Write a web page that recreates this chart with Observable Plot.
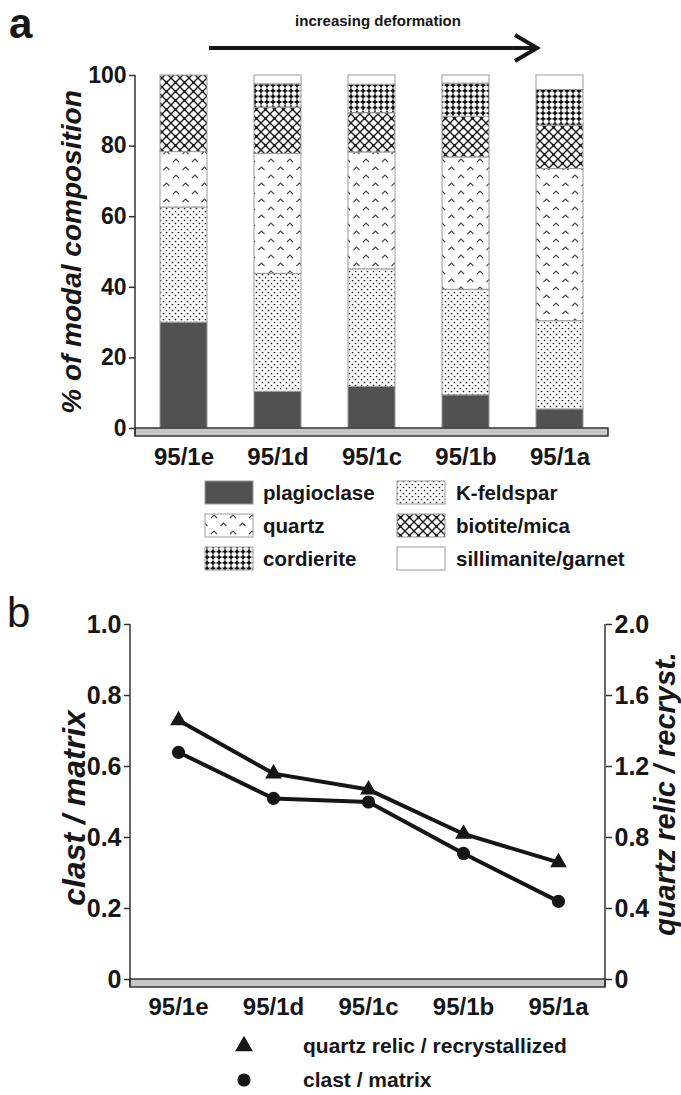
<!DOCTYPE html>
<html><head><meta charset="utf-8">
<script src="https://cdn.jsdelivr.net/npm/d3@7"></script>
<script src="https://cdn.jsdelivr.net/npm/@observablehq/plot@0.6"></script>
<style>
body{margin:0;background:#fff;font-family:"Liberation Sans",Arial,sans-serif;}
#wrap{position:relative;width:681px;height:1095px;overflow:hidden;background:#fff;}
</style></head><body><div id="wrap"></div>
<script>
// ---------- data ----------
const samples = ["95/1e", "95/1d", "95/1c", "95/1b", "95/1a"];
const minerals = ["plagioclase", "K-feldspar", "quartz", "biotite/mica", "cordierite", "sillimanite/garnet"];
const plagioclase = [30.0, 10.4, 11.8, 9.4, 5.4];
const kFeldspar = [32.6, 33.4, 33.3, 29.9, 25.0];
const quartz = [15.7, 34.0, 33.1, 37.5, 43.1];
const biotiteMica = [21.7, 13.1, 11.1, 11.5, 12.3];
const cordierite = [0, 6.6, 8.1, 9.4, 10.1];
const sillimaniteGarnet = [0, 2.5, 2.6, 2.3, 4.1];
const percentTicks = [0, 20, 40, 60, 80, 100];

const clastMatrix = [0.64, 0.51, 0.50, 0.355, 0.22];
const quartzRelicRecryst = [1.46, 1.16, 1.07, 0.82, 0.66];
const leftTicks = [0, 0.2, 0.4, 0.6, 0.8, 1.0];
const rightTicks = [0, 0.4, 0.8, 1.2, 1.6, 2.0];
const seriesB = ["quartz relic / recrystallized", "clast / matrix"];

// ---------- setup ----------
const FONT = "'Liberation Sans', Arial, Helvetica, sans-serif";
const INK = "#161616";
const wrap = document.getElementById("wrap");

// pattern definitions
const defs = d3.select(wrap).append("svg").attr("width", 0).attr("height", 0)
  .style("position", "absolute").style("left", 0).style("top", 0);
const D = defs.append("defs");
function pat(id, w, h, draw) {
  const p = D.append("pattern").attr("id", id).attr("patternUnits", "userSpaceOnUse")
    .attr("width", w).attr("height", h);
  p.append("rect").attr("width", w).attr("height", h).attr("fill", "#fff");
  draw(p);
}
pat("pKfs", 6, 6, p => {
  p.append("circle").attr("cx", 1.5).attr("cy", 1.5).attr("r", 0.85).attr("fill", "#1a1a1a");
  p.append("circle").attr("cx", 4.5).attr("cy", 4.5).attr("r", 0.85).attr("fill", "#1a1a1a");
});
pat("pQtz", 19, 16, p => {
  p.append("path").attr("d", "M2 6 L5 3 L8 6 M11.5 14 L14.5 11 L17.5 14")
    .attr("stroke", "#444").attr("stroke-width", 1.1).attr("fill", "none");
});
pat("pBio", 9, 9, p => {
  p.append("path").attr("d", "M-1 -1 L10 10 M10 -1 L-1 10")
    .attr("stroke", "#1a1a1a").attr("stroke-width", 1.4).attr("fill", "none");
  p.append("circle").attr("cx", 4.5).attr("cy", 4.5).attr("r", 1.2).attr("fill", "#1a1a1a");
});
pat("pCrd", 6, 5.6, p => {
  p.append("path").attr("d", "M3 0.4 V5.2 M0.6 2.8 H5.4")
    .attr("stroke", "#111").attr("stroke-width", 1.8).attr("fill", "none");
});
const fills = {
  "plagioclase": "#515151",
  "K-feldspar": "url(#pKfs)",
  "quartz": "url(#pQtz)",
  "biotite/mica": "url(#pBio)",
  "cordierite": "url(#pCrd)",
  "sillimanite/garnet": "#ffffff"
};
const valuesBy = [plagioclase, kFeldspar, quartz, biotiteMica, cordierite, sillimaniteGarnet];

const rowsA = [];
samples.forEach((s, i) => minerals.forEach((m, j) => {
  if (valuesBy[j][i] > 0) rowsA.push({sample: s, mineral: m, value: valuesBy[j][i]});
}));

function place(node, top) {
  node.style.position = "absolute";
  node.style.left = "0px";
  node.style.top = top + "px";
  wrap.appendChild(node);
}

// baseline band + axis lines, drawn from the scales
function baseBand(withRight) {
  return (index, scales, values, dims) => {
    const y0 = scales.y(0);
    const g = d3.create("svg:g");
    const x1 = dims.marginLeft, x2 = dims.width - dims.marginRight;
    g.append("rect").attr("x", x1).attr("y", y0).attr("width", x2 - x1).attr("height", 8)
      .attr("fill", "#c6c6c6").attr("stroke", "#333").attr("stroke-width", 1.5);
    g.append("line").attr("x1", x1).attr("x2", x1).attr("y1", dims.marginTop).attr("y2", y0 + 8)
      .attr("stroke", "#333").attr("stroke-width", 1.5);
    if (withRight) g.append("line").attr("x1", x2).attr("x2", x2).attr("y1", dims.marginTop).attr("y2", y0 + 8)
      .attr("stroke", "#333").attr("stroke-width", 1.5);
    return g.node();
  };
}

// ---------- panel a ----------
const plotA = Plot.plot({
  width: 681, height: 410,
  marginTop: 15, marginBottom: 42, marginLeft: 135, marginRight: 73,
  x: {domain: samples, paddingInner: 0.495, paddingOuter: 0.237, axis: null},
  y: {domain: [0, 100], axis: null},
  color: {type: "identity"},
  style: {fontFamily: FONT, color: INK, background: "transparent", overflow: "visible"},
  marks: [
    Plot.barY(rowsA, {x: "sample", y: "value", fill: d => fills[d.mineral], stroke: "#9a9a9a", strokeWidth: 1}),
    baseBand(false),
    Plot.axisY({ticks: percentTicks, tickSize: 6, tickPadding: 3, fontSize: 23, fontWeight: "bold", tickFormat: d => String(d), label: null, stroke: "#333", strokeWidth: 1.5}),
    Plot.axisX({tickSize: 0, tickPadding: 19, fontSize: 24, fontWeight: "bold", label: null}),
    Plot.text(["% of modal composition"], {text: d => d, frameAnchor: "left", textAnchor: "middle", dx: -63, rotate: -90, fontSize: 28, fontWeight: "bold", fontStyle: "italic"})
  ]
});
place(plotA, 60);

// ---------- panel b ----------
const rightScale = rightTicks[rightTicks.length - 1] / leftTicks[leftTicks.length - 1];
const rowsB = [];
samples.forEach((s, i) => {
  rowsB.push({sample: s, series: seriesB[0], v: quartzRelicRecryst[i] / rightScale});
  rowsB.push({sample: s, series: seriesB[1], v: clastMatrix[i]});
});
const fmt = d => d === 0 ? "0" : d.toFixed(1);
const plotB = Plot.plot({
  width: 681, height: 430,
  marginTop: 34, marginBottom: 41, marginLeft: 130, marginRight: 76,
  x: {type: "point", domain: samples, padding: 0.487, axis: null},
  y: {domain: [0, 1], axis: null},
  symbol: {domain: seriesB, range: ["triangle", "circle"]},
  style: {fontFamily: FONT, color: INK, background: "transparent", overflow: "visible"},
  marks: [
    baseBand(true),
    Plot.line(rowsB, {x: "sample", y: "v", z: "series", stroke: INK, strokeWidth: 4, strokeLinejoin: "round"}),
    Plot.dot(rowsB.filter(d => d.series === seriesB[1]), {x: "sample", y: "v", symbol: "series", r: 6.6, fill: INK}),
    Plot.dot(rowsB.filter(d => d.series === seriesB[0]), {x: "sample", y: "v", symbol: "series", r: 6.2, fill: INK}),
    Plot.axisY({anchor: "left", ticks: leftTicks, tickFormat: fmt, tickSize: 6, tickPadding: 3, fontSize: 25, fontWeight: "bold", label: null, stroke: "#333", strokeWidth: 1.5}),
    Plot.axisY({anchor: "right", ticks: leftTicks, tickFormat: d => fmt(+(d * rightScale).toFixed(2)), tickSize: 6, tickPadding: 3, fontSize: 25, fontWeight: "bold", label: null, stroke: "#333", strokeWidth: 1.5}),
    Plot.axisX({tickSize: 0, tickPadding: 18, fontSize: 24, fontWeight: "bold", label: null}),
    Plot.text(["clast / matrix"], {text: d => d, frameAnchor: "left", textAnchor: "middle", dx: -56, dy: 6, rotate: -90, fontSize: 32, fontWeight: "bold", fontStyle: "italic"}),
    Plot.text(["quartz relic / recryst."], {text: d => d, frameAnchor: "right", textAnchor: "middle", dx: 60, dy: -8, rotate: -90, fontSize: 29, fontWeight: "bold", fontStyle: "italic"})
  ]
});
place(plotB, 590);

// ---------- overlay: panel letters, arrow, legends ----------
const ov = d3.select(wrap).append("svg").attr("width", 681).attr("height", 1095)
  .style("position", "absolute").style("left", 0).style("top", 0).style("pointer-events", "none")
  .attr("font-family", FONT).attr("fill", INK);

ov.append("text").attr("x", 9).attr("y", 38).attr("font-size", 42).attr("font-weight", "bold").text("a");
ov.append("text").attr("x", 7).attr("y", 627).attr("font-size", 42).text("b");

ov.append("text").attr("x", 378).attr("y", 26).attr("text-anchor", "middle")
  .attr("font-size", 15).attr("font-weight", "bold").text("increasing deformation");
ov.append("line").attr("x1", 209).attr("x2", 535).attr("y1", 48).attr("y2", 48)
  .attr("stroke", INK).attr("stroke-width", 4);
ov.append("path").attr("d", "M515 35 L537 48 L515 61").attr("fill", "none")
  .attr("stroke", INK).attr("stroke-width", 4);

// legend a
const legCols = [{sx: 205, tx: 263}, {sx: 397, tx: 456}];
const legRows = [492.5, 525.5, 558.5];
minerals.forEach((m, i) => {
  const c = legCols[i % 2], yc = legRows[Math.floor(i / 2)];
  ov.append("rect").attr("x", c.sx).attr("y", yc - 11.5).attr("width", 48).attr("height", 23)
    .attr("fill", fills[m]).attr("stroke", "#9a9a9a").attr("stroke-width", 1);
  ov.append("text").attr("x", c.tx).attr("y", yc).attr("dy", "0.35em")
    .attr("font-size", 20.5).attr("font-weight", "bold").text(m);
});

// legend b
const legB = [{y: 1046}, {y: 1080}];
seriesB.forEach((s, i) => {
  const sym = i === 0 ? d3.symbol(d3.symbolTriangle, Math.PI * 6.6 * 6.6) : d3.symbol(d3.symbolCircle, Math.PI * 6.6 * 6.6);
  ov.append("path").attr("d", sym()).attr("transform", `translate(244,${legB[i].y})`).attr("fill", INK);
  ov.append("text").attr("x", 303).attr("y", legB[i].y).attr("dy", "0.35em")
    .attr("font-size", 21).attr("font-weight", "bold").text(s);
});
</script></body></html>
